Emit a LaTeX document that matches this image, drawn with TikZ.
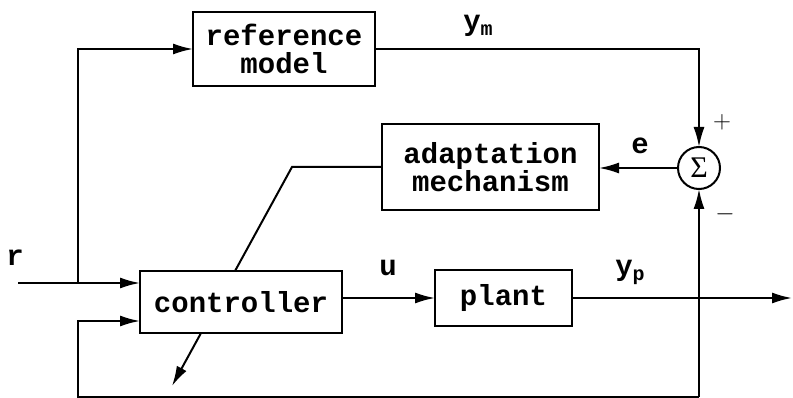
\documentclass[tikz,border=0pt]{standalone}
\usepackage{fontspec}
\setmainfont{Liberation Serif}
\newfontfamily\boxfont[BoldFont={Liberation Mono Bold}]{Liberation Mono}
\usetikzlibrary{arrows.meta,backgrounds}
\newcommand{\subtxt}[1]{\raisebox{-5pt}{\fontsize{20}{20}\selectfont #1}}
\begin{document}
\begin{tikzpicture}[x=1pt,y=-1pt,
  every node/.style={inner sep=0pt, outer sep=0pt},
  blk/.style={draw, fill=white, line width=2pt, align=center, font=\boxfont\bfseries\fontsize{29}{28}\selectfont},
  lbl/.style={font=\boxfont\bfseries\fontsize{29}{28}\selectfont},
  wire/.style={line width=2pt},
  arr/.style={wire, -{Latex[length=20pt,width=11pt]}},
  sgn/.style={font=\fontsize{26}{26}\selectfont}]
\useasboundingbox (0,0) rectangle (793,398);
\node[blk, minimum width=182pt, minimum height=74pt] (ref) at (284,49) {reference\\model};
\node[blk, minimum width=217pt, minimum height=86pt] (adapt) at (490.5,167) {adaptation\\mechanism};
\node[draw, circle, line width=2pt, minimum size=42pt, font=\fontsize{30}{30}\selectfont] (sum) at (699,168) {Σ};
\node[blk, minimum width=202pt, minimum height=62pt] (ctrl) at (241,302) {controller};
\node[blk, minimum width=137pt, minimum height=56pt] (plant) at (503.5,298) {plant};
\coordinate (rin) at (18,283);
\coordinate (rbr) at (78,283);
\coordinate (out) at (792,298);
\coordinate (bot) at (699,397);
\coordinate (botl) at (78,397);
\coordinate (diagtop) at (292,167);
\coordinate (diagend) at (172,386);
% r input
\draw[arr] (rin) -- (rin -| ctrl.west);
\draw[arr] (rbr) -- (rbr |- ref.west) -- (ref.west);
% ym
\draw[arr] (ref.east) -- (ref.east -| sum.north) -- (sum.north);
% e
\draw[arr] (sum.west) -- (adapt.east |- sum.west);
% adaptation diagonal (hidden behind the controller box)
\begin{scope}[on background layer]
\draw[arr] (adapt.west) -- (diagtop) -- (diagend);
\end{scope}
% u
\draw[arr] (ctrl.east |- plant.west) -- (plant.west);
% yp
\draw[arr] (plant.east) -- (out);
\draw[arr] (bot) -- (sum.south);
\draw[arr] (bot) -- (botl) -- (78,321) -- (ctrl.west |- 0,321);
% labels
\node[lbl] (lr) at (15,258) {r};
\node[lbl] (lym) at (478,26) {y\subtxt{m}};
\node[lbl] (le) at (640,146) {e};
\node[lbl] (lu) at (388,268) {u};
\node[lbl] (lyp) at (630,272) {y\subtxt{p}};
\node[sgn] (lplus) at (722,122) {$+$};
\node[sgn] (lminus) at (725,214) {$-$};
\end{tikzpicture}
\end{document}
